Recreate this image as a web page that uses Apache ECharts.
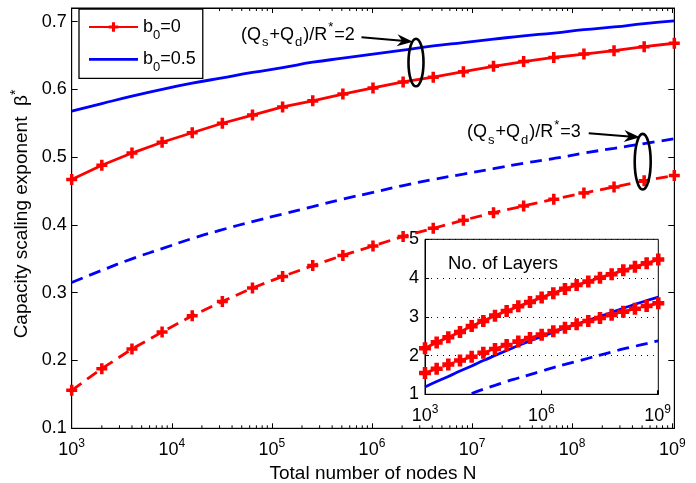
<!DOCTYPE html>
<html>
<head>
<meta charset="utf-8">
<script src="https://cdn.jsdelivr.net/npm/echarts@6/dist/echarts.min.js"></script>
<style>
  html, body { margin: 0; padding: 0; background: #fff; }
  #main { width: 696px; height: 483px; }
</style>
</head>
<body>
<div id="main"></div>
<script>
// total number of nodes N (doubling from 10^3)
var nodes = [1e3, 2e3, 4e3, 8e3, 16e3, 32e3, 64e3, 128e3, 256e3, 512e3, 1024e3,
  2048e3, 4096e3, 8192e3, 16384e3, 32768e3, 65536e3, 131072e3, 262144e3, 524288e3, 1048576e3];

// capacity scaling exponent beta*
var betaRed2 = [0.467, 0.488, 0.506, 0.522, 0.536, 0.550, 0.562, 0.574, 0.583, 0.593, 0.602,
  0.611, 0.618, 0.626, 0.634, 0.641, 0.647, 0.652, 0.657, 0.663, 0.668];
var betaBlue2 = [0.568, 0.579, 0.590, 0.600, 0.609, 0.617, 0.625, 0.632, 0.640, 0.646, 0.652,
  0.658, 0.664, 0.669, 0.674, 0.679, 0.683, 0.688, 0.692, 0.697, 0.701];
var betaRed3 = [0.156, 0.188, 0.217, 0.242, 0.266, 0.287, 0.307, 0.324, 0.340, 0.355, 0.369,
  0.383, 0.395, 0.407, 0.418, 0.428, 0.438, 0.447, 0.456, 0.465, 0.473];
var betaBlue3 = [0.315, 0.333, 0.350, 0.365, 0.380, 0.393, 0.405, 0.416, 0.427, 0.438, 0.448,
  0.458, 0.467, 0.475, 0.483, 0.491, 0.498, 0.506, 0.513, 0.520, 0.527];

// inset: number of layers
var layersRedTop = [2.19, 2.34, 2.47, 2.61, 2.76, 2.89, 3.03, 3.15, 3.27, 3.38, 3.50,
  3.61, 3.72, 3.82, 3.91, 4.01, 4.10, 4.20, 4.29, 4.38, 4.48];
var layersRedLow = [1.55, 1.66, 1.77, 1.87, 1.97, 2.07, 2.17, 2.27, 2.36, 2.45, 2.54,
  2.63, 2.72, 2.81, 2.89, 2.97, 3.05, 3.13, 3.21, 3.28, 3.35];
var layersBlue2 = [1.19, 1.33, 1.46, 1.60, 1.73, 1.87, 2.00, 2.13, 2.26, 2.38, 2.49,
  2.60, 2.71, 2.81, 2.91, 3.01, 3.11, 3.22, 3.32, 3.42, 3.51];
var layersBlue3 = [null, null, null, null, 1.02, 1.13, 1.23, 1.33, 1.42, 1.51, 1.60,
  1.69, 1.77, 1.85, 1.93, 2.01, 2.09, 2.17, 2.24, 2.31, 2.38];

// axis ticks
var decades = [1e3, 1e4, 1e5, 1e6, 1e7, 1e8];
var minorSteps = [2, 3, 4, 5, 6, 7, 8, 9];

var FONT = '"Liberation Sans", Arial, Helvetica, sans-serif';
var RED = '#ff0000', BLUE = '#0000ff';
var PLUS = 'path://M3.4,0H6.6V3.4H10V6.6H6.6V10H3.4V6.6H0V3.4H3.4Z';
var PLUS_BOLD = 'path://M3.1,0H6.9V3.1H10V6.9H6.9V10H3.1V6.9H0V3.1H3.1Z';

function pairs(ys) {
  return nodes.map(function (n, i) { return [n, ys[i]]; });
}

var minorTicks = [];
decades.forEach(function (d) {
  minorSteps.forEach(function (m) { minorTicks.push([d * m, 0.1]); });
});

function powLabel(v) {
  var e = Math.log10(v);
  if (Math.abs(e - Math.round(e)) > 1e-6) return '';
  return '{b|10}{e|' + Math.round(e) + '}';
}
var powRich = {
  b: { fontSize: 18, lineHeight: 26, color: '#000', fontFamily: FONT },
  e: { fontSize: 12, lineHeight: 12, verticalAlign: 'top', color: '#000', fontFamily: FONT }
};

function tenths(v) {
  var t = v * 10;
  if (Math.abs(t - Math.round(t)) > 1e-6) return '';
  return v.toFixed(1);
}

function arrow(x0, y0, x1, y1) {
  var dx = x1 - x0, dy = y1 - y0, L = Math.sqrt(dx * dx + dy * dy);
  var ux = dx / L, uy = dy / L, px = -uy, py = ux;
  var hl = 16, hw = 6, notch = 11;
  return [
    { type: 'line', z: 50, shape: { x1: x0, y1: y0, x2: x1 - ux * notch, y2: y1 - uy * notch },
      style: { stroke: '#000', lineWidth: 2 } },
    { type: 'polygon', z: 50, shape: { points: [
      [x1, y1],
      [x1 - ux * hl + px * hw, y1 - uy * hl + py * hw],
      [x1 - ux * notch, y1 - uy * notch],
      [x1 - ux * hl - px * hw, y1 - uy * hl - py * hw]] },
      style: { fill: '#000' } }
  ];
}

var annoRich = {
  n: { fontSize: 18, lineHeight: 28, color: '#000', fontFamily: FONT },
  sub: { fontSize: 13, lineHeight: 14, verticalAlign: 'bottom', color: '#000', fontFamily: FONT, padding: [0, 1, 0, 1] },
  sup: { fontSize: 13, lineHeight: 14, verticalAlign: 'top', color: '#000', fontFamily: FONT, padding: [0, 1, 0, 1] }
};
function annoText(k) {
  return '{n|(Q}{sub|s}{n|+Q}{sub|d}{n|)/R}{sup|*}{n|=' + k + '}';
}

var myChart = echarts.init(document.getElementById('main'), null, { renderer: 'canvas' });

var option = {
  animation: false,
  backgroundColor: '#fff',
  textStyle: { fontFamily: FONT },
  grid: [
    { left: 71.7, right: 21.7, top: 8, bottom: 54.7, show: true, outerBoundsMode: 'none',
      borderColor: '#000', borderWidth: 1, backgroundColor: '#fff' },
    { left: 425, right: 37.7, top: 239.3, bottom: 88.7, show: true, outerBoundsMode: 'none',
      borderColor: '#000', borderWidth: 1, backgroundColor: '#fff' }
  ],
  legend: {
    data: [
      { name: 'b0=0' },
      { name: 'b0=0.5', icon: 'path://M0,0H49V2.8H0Z' }
    ],
    orient: 'vertical',
    left: 79, top: 9,
    itemWidth: 49, itemHeight: 12, itemGap: 8.3, itemTextGap: 4,
    padding: [9, 7, 4, 9],
    borderColor: '#000', borderWidth: 1.3, backgroundColor: '#fff',
    selectedMode: false,
    formatter: function (name) {
      return '{n|b}{s|0}{n|=' + name.split('=')[1] + '}';
    },
    textStyle: {
      color: '#000', fontFamily: FONT, fontSize: 18,
      rich: {
        n: { fontSize: 18, lineHeight: 30, color: '#000', fontFamily: FONT },
        s: { fontSize: 13, lineHeight: 14, verticalAlign: 'bottom', color: '#000', fontFamily: FONT }
      }
    }
  },
  xAxis: [
    {
      gridIndex: 0, type: 'log', logBase: 10, min: 1e3, max: 1048576e3, position: 'bottom',
      axisLine: { lineStyle: { color: '#000', width: 1 } },
      axisTick: { inside: true, length: 5, lineStyle: { color: '#000' } },
      axisLabel: { margin: 9, formatter: powLabel, rich: powRich, color: '#000' },
      splitLine: { show: false },
      name: 'Total number of nodes N', nameLocation: 'middle', nameGap: 31,
      nameTextStyle: { fontSize: 19, color: '#000', fontFamily: FONT }
    },
    {
      gridIndex: 0, type: 'log', logBase: 10, min: 1e3, max: 1048576e3, position: 'top',
      axisLine: { lineStyle: { color: '#000', width: 1 } },
      axisTick: { inside: true, length: 5, lineStyle: { color: '#000' } },
      axisLabel: { show: false },
      splitLine: { show: false }
    },
    {
      gridIndex: 1, type: 'log', logBase: 10, min: 1e3, max: 1048576e3, interval: 3,
      axisLine: { lineStyle: { color: '#000', width: 1 } },
      axisTick: { inside: true, length: 4, lineStyle: { color: '#000' } },
      axisLabel: { margin: 9, formatter: function (v) {
        var e = Math.round(Math.log10(v));
        return (e % 3 === 0) ? powLabel(v) : '';
      }, rich: powRich, color: '#000' },
      splitLine: { show: false }
    }
  ],
  yAxis: [
    {
      gridIndex: 0, type: 'value', min: 0.1, max: 0.72, interval: 0.1,
      axisLine: { lineStyle: { color: '#000', width: 1 } },
      axisTick: { inside: true, length: 6, lineStyle: { color: '#000' } },
      axisLabel: { margin: 5, formatter: tenths, fontSize: 18, color: '#000', fontFamily: FONT },
      splitLine: { show: false }
    },
    {
      gridIndex: 0, type: 'value', min: 0.1, max: 0.72, interval: 0.1, position: 'right',
      axisLine: { lineStyle: { color: '#000', width: 1 } },
      axisTick: { inside: true, length: 6, lineStyle: { color: '#000' } },
      axisLabel: { show: false },
      splitLine: { show: false }
    },
    {
      gridIndex: 1, type: 'value', min: 1, max: 5, interval: 1,
      axisLine: { lineStyle: { color: '#000', width: 1 } },
      axisTick: { inside: true, length: 4, lineStyle: { color: '#000' } },
      axisLabel: { margin: 6, fontSize: 18, color: '#000', fontFamily: FONT },
      splitLine: { show: true, lineStyle: { color: '#000', width: 1, type: [1, 5] } }
    }
  ],
  series: [
    {
      name: 'b0=0', type: 'line', xAxisIndex: 0, yAxisIndex: 0,
      data: pairs(betaRed2),
      symbol: PLUS, symbolSize: 11, showAllSymbol: true,
      itemStyle: { color: RED },
      lineStyle: { color: RED, width: 2.8 }
    },
    {
      name: 'b0=0.5', type: 'line', xAxisIndex: 0, yAxisIndex: 0,
      data: pairs(betaBlue2), smooth: true,
      showSymbol: false, symbol: 'none',
      itemStyle: { color: BLUE },
      lineStyle: { color: BLUE, width: 2.8 }
    },
    {
      name: 'b0=0, ratio 3', type: 'line', xAxisIndex: 0, yAxisIndex: 0,
      data: pairs(betaRed3),
      symbol: PLUS, symbolSize: 11, showAllSymbol: true,
      itemStyle: { color: RED },
      lineStyle: { color: RED, width: 2.8, type: [12, 7] }
    },
    {
      name: 'b0=0.5, ratio 3', type: 'line', xAxisIndex: 0, yAxisIndex: 0,
      data: pairs(betaBlue3), smooth: true,
      showSymbol: false, symbol: 'none',
      itemStyle: { color: BLUE },
      lineStyle: { color: BLUE, width: 2.8, type: [12, 7] }
    },
    {
      name: 'minor ticks', type: 'custom', xAxisIndex: 0, yAxisIndex: 0, silent: true,
      data: minorTicks,
      renderItem: function (params, api) {
        var b = api.coord([api.value(0), 0.1]);
        var t = api.coord([api.value(0), 0.72]);
        return { type: 'group', children: [
          { type: 'line', shape: { x1: b[0], y1: b[1], x2: b[0], y2: b[1] - 3 }, style: { stroke: '#000', lineWidth: 1 } },
          { type: 'line', shape: { x1: t[0], y1: t[1], x2: t[0], y2: t[1] + 3 }, style: { stroke: '#000', lineWidth: 1 } }
        ] };
      }
    },
    // inset
    {
      name: 'inset blue solid', type: 'line', xAxisIndex: 2, yAxisIndex: 2,
      data: pairs(layersBlue2), smooth: true, showSymbol: false, symbol: 'none',
      lineStyle: { color: BLUE, width: 2.8 }
    },
    {
      name: 'inset blue dashed', type: 'line', xAxisIndex: 2, yAxisIndex: 2,
      data: pairs(layersBlue3), smooth: true, showSymbol: false, symbol: 'none',
      lineStyle: { color: BLUE, width: 2.8, type: [12, 7] }
    },
    {
      name: 'inset red top', type: 'line', xAxisIndex: 2, yAxisIndex: 2,
      data: pairs(layersRedTop),
      symbol: PLUS_BOLD, symbolSize: 12, showAllSymbol: true,
      itemStyle: { color: RED },
      lineStyle: { color: RED, width: 2.8 }
    },
    {
      name: 'inset red low', type: 'line', xAxisIndex: 2, yAxisIndex: 2,
      data: pairs(layersRedLow),
      symbol: PLUS_BOLD, symbolSize: 12, showAllSymbol: true,
      itemStyle: { color: RED },
      lineStyle: { color: RED, width: 2.8, type: [12, 7] }
    }
  ],
  graphic: [
    {
      type: 'text', x: 22, y: 214, rotation: Math.PI / 2, z: 50,
      style: {
        text: '{n|Capacity scaling exponent  \u03b2}{u|*}',
        align: 'center', verticalAlign: 'middle',
        rich: {
          n: { fontSize: 19, lineHeight: 26, color: '#000', fontFamily: FONT },
          u: { fontSize: 14, lineHeight: 14, verticalAlign: 'top', color: '#000', fontFamily: FONT }
        }
      }
    },
    {
      type: 'text', x: 448, y: 264.3, z: 50,
      style: { text: 'No. of Layers', fontSize: 18.5, fontFamily: FONT, fill: '#000',
        align: 'left', verticalAlign: 'middle' }
    },
    {
      type: 'text', x: 241, y: 35, z: 50,
      style: { text: annoText(2), rich: annoRich, align: 'left', verticalAlign: 'middle' }
    },
    {
      type: 'text', x: 467, y: 132.5, z: 50,
      style: { text: annoText(3), rich: annoRich, align: 'left', verticalAlign: 'middle' }
    },
    { type: 'ellipse', z: 50, shape: { cx: 416, cy: 62.5, rx: 7.5, ry: 23.8 },
      style: { fill: 'none', stroke: '#000', lineWidth: 2.6 } },
    { type: 'ellipse', z: 50, shape: { cx: 642.7, cy: 161.7, rx: 8, ry: 27.8 },
      style: { fill: 'none', stroke: '#000', lineWidth: 2.6 } }
  ].concat(arrow(361.5, 37.3, 413, 41.7)).concat(arrow(588.7, 133.3, 640, 137.3))
};

myChart.setOption(option);
</script>
</body>
</html>
